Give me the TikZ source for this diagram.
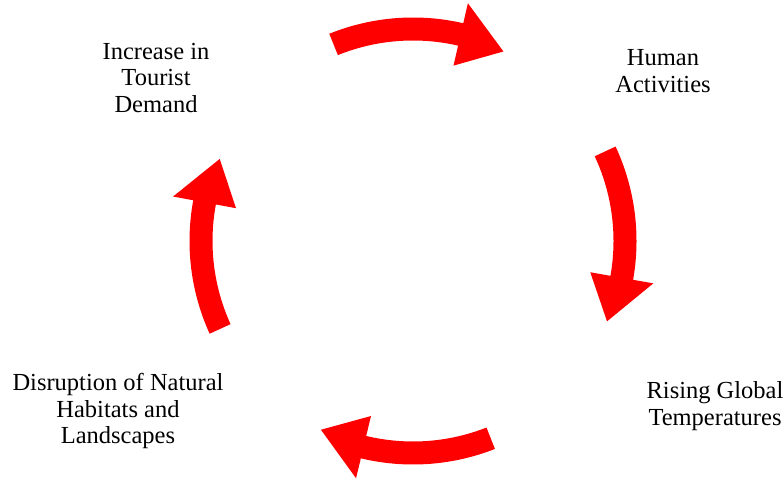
\documentclass[tikz,border=0pt]{standalone}
\usepackage{fontspec}
\setmainfont{Liberation Serif}
\usetikzlibrary{positioning}
\tikzset{
  stage/.style={align=center, inner sep=0pt, font=\fontsize{24.5}{26.5}\selectfont},
  cyclearrow/.style={fill=red, draw=none},
}

\begin{document}
\begin{tikzpicture}[x=1pt, y=1pt]
  \useasboundingbox (0,0) rectangle (784,480);

  \node[stage] (demand) at (156,402) {Increase in\\Tourist\\Demand};
  \node[stage] (human) at (663,409) {Human\\Activities};
  \node[stage] (temps) at (715,74) {Rising Global\\Temperatures};
  \node[stage] (habitat) at (118,69) {Disruption of Natural\\Habitats and\\Landscapes};

  % four curved block arrows round the cycle, clockwise
  \coordinate (hub) at (413,239);
  \begin{scope}[shift={(hub)}]
    \foreach \c/\t in {90/-1.5, 0/1.5, -90/-2, 180/1} {
      \pgfmathsetmacro\tail{\c+\t+23.5}
      \pgfmathsetmacro\neck{\c+\t-11.5}
      \pgfmathsetmacro\tip{\c+\t-24}
      \fill[cyclearrow] (\tail:223.5)
        arc[start angle=\tail, end angle=\neck, radius=223.5]
        -- (\neck:244) -- (\tip:210) -- (\neck:180) -- (\neck:200.5)
        arc[start angle=\neck, end angle=\tail, radius=200.5]
        -- cycle;
    }
  \end{scope}
\end{tikzpicture}
\end{document}
